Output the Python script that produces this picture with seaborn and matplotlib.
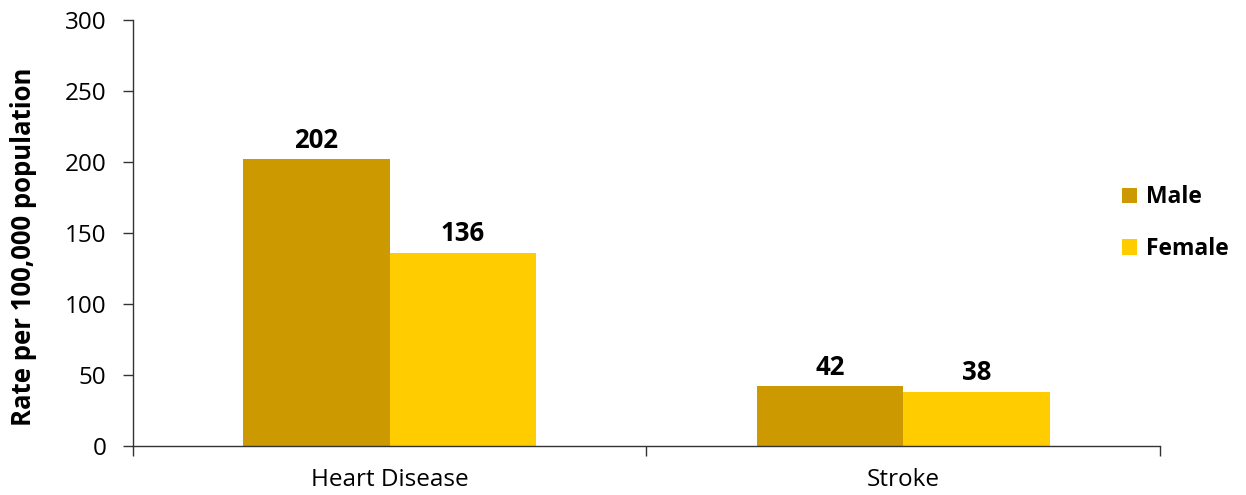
import numpy as np
import pandas as pd
import seaborn as sns
from matplotlib import pyplot as plt
from matplotlib.patches import Patch

categories = ['Heart Disease', 'Stroke']
male = [202, 42]
female = [136, 38]
series = ['Male', 'Female']
colors = ['#CC9900', '#FFCC00']
yticks = [0, 50, 100, 150, 200, 250, 300]

df = pd.DataFrame({
    'cause': categories * 2,
    'sex': ['Male'] * len(male) + ['Female'] * len(female),
    'rate': male + female,
})

sns.set_style('white')
plt.rcParams['font.family'] = ['Open Sans', 'DejaVu Sans']
plt.rcParams['text.color'] = 'black'
plt.rcParams['axes.labelcolor'] = 'black'
plt.rcParams['xtick.color'] = 'black'
plt.rcParams['ytick.color'] = 'black'

fig = plt.figure(figsize=(12.46, 4.95), dpi=100)
ax = fig.add_axes([0.1067, 0.099, 0.8243, 0.8606])

sns.barplot(data=df, x='cause', y='rate', hue='sex', hue_order=series,
            palette=colors, width=0.57, saturation=1, linewidth=0, ax=ax, legend=False)

for cont in ax.containers:
    ax.bar_label(cont, labels=[f'{v:.0f}' for v in cont.datavalues],
                 padding=4, fontsize=18.5, fontweight='bold', color='black')

ax.set_xlim(-0.5, 1.5)
ax.set_ylim(0, 300)
ax.set_yticks(yticks)
ax.set_xlabel('')
ax.set_ylabel('Rate per 100,000 population', fontsize=18.5, fontweight='bold')
ax.yaxis.set_label_coords(-0.093, 0.467)

for side in ['top', 'right']:
    ax.spines[side].set_visible(False)
for side in ['left', 'bottom']:
    ax.spines[side].set_color('#333333')
    ax.spines[side].set_linewidth(1)

ax.set_xticks([-0.5, 0.5, 1.5], minor=True)
ax.tick_params(axis='x', which='major', length=0, pad=16, labelsize=17.5)
ax.tick_params(axis='x', which='minor', length=7, width=1, color='#333333', direction='out')
ax.tick_params(axis='y', length=7, width=1, color='#333333', direction='out', labelsize=17.5, pad=12)
ax.tick_params(bottom=True, left=True, which='both')

handles = [Patch(facecolor=c, edgecolor='none', label=s) for s, c in zip(series, colors)]
fig.legend(handles=handles, loc='center left', bbox_to_anchor=(0.884, 0.549), frameon=False,
           prop={'size': 16.5, 'weight': 'bold'}, handlelength=0.65, handleheight=0.65,
           handletextpad=0.4, labelspacing=1.2)

plt.savefig('out.png', dpi=100)
